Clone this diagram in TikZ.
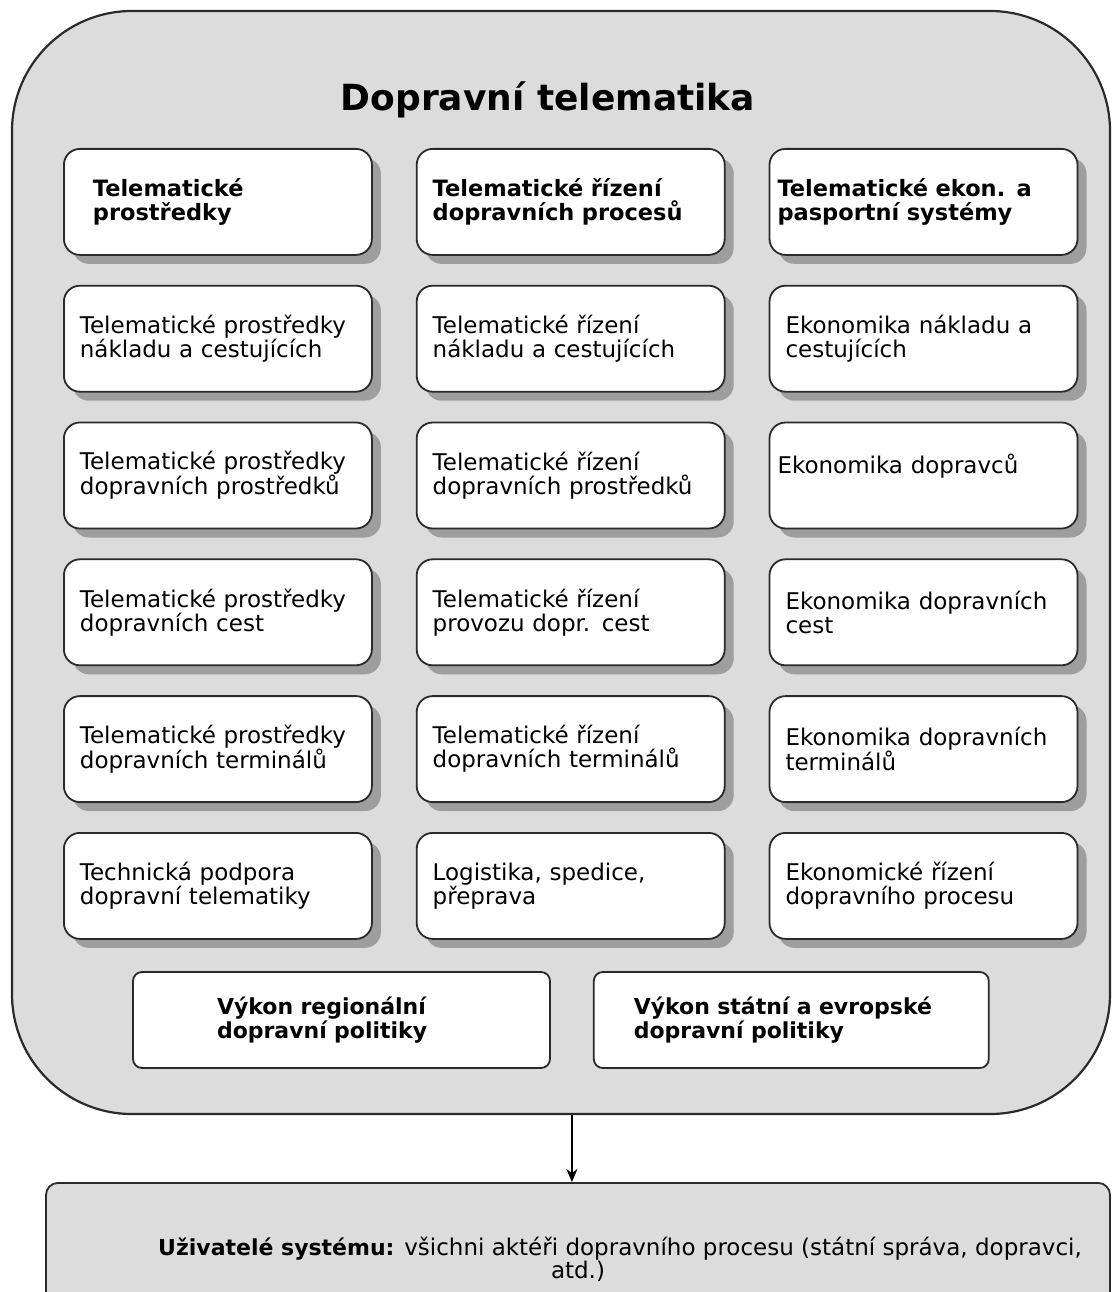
\documentclass[tikz,border=0pt]{standalone}
\usepackage{fontspec}
\setmainfont{DejaVu Sans}
\usepackage{tikz}
\usetikzlibrary{positioning}
\usetikzlibrary{shadows}
\usetikzlibrary{calc}
\usetikzlibrary{arrows.meta}
\definecolor{panelGray}{HTML}{DCDCDC}
\definecolor{lineGray}{HTML}{2A2A2A}

\begin{document}
\begin{tikzpicture}[x=1pt,y=1pt,
        node distance=29pt and 43pt,
        outerNode/.style = {draw=lineGray,line width=2.2pt,fill=panelGray,rounded corners=120pt,minimum width=1098pt,minimum height=1103pt,inner sep=0pt},
        boxNode/.style = {draw=lineGray,line width=1.8pt,fill=white,rounded corners=16pt,minimum width=308pt,minimum height=106pt,inner xsep=16pt,inner ysep=0pt,text width=276pt,align=left,font=\fontsize{23}{24}\selectfont,
            drop shadow={shadow xshift=9pt,shadow yshift=-9pt,fill=black!62}},
        headNode/.style = {boxNode,font=\fontsize{22.5}{24}\selectfont\bfseries}, % first row of the grid
        policyNode/.style = {draw=lineGray,line width=1.8pt,fill=white,rounded corners=9pt,minimum height=96pt,inner ysep=0pt,align=left,font=\fontsize{22}{22}\selectfont\bfseries},
        userNode/.style = {draw=lineGray,line width=1.8pt,fill=panelGray,rounded corners=12pt,minimum width=1064pt,minimum height=152pt,inner sep=0pt,align=center,font=\fontsize{23}{23}\selectfont},
        arrowLine/.style = {draw=black,line width=2.6pt,-{Stealth[length=13pt,width=11pt]}}
        ]
        \useasboundingbox (0,0) rectangle (1113,-1292);
        \node[outerNode] (telematika) at (561,-562.5) {};
        \node[font=\fontsize{36}{36}\selectfont\bfseries] (nadpis) at (548,-100) {Dopravní telematika};

        \node[headNode,anchor=north west,inner xsep=29pt,text width=250pt] (prostredky) at (63,-148) {Telematické\\prostředky};
        \node[headNode,right=of prostredky] (rizeni) {Telematické řízení\\dopravních procesů};
        \node[headNode,right=of rizeni,inner xsep=8pt,text width=292pt] (ekonomika) {Telematické ekon. a\\pasportní systémy};

        \node[boxNode,below=of prostredky] (prNaklad) {Telematické prostředky\\nákladu a cestujících};
        \node[boxNode,below=of prNaklad] (prVozidla) {Telematické prostředky\\dopravních prostředků};
        \node[boxNode,below=of prVozidla] (prCesty) {Telematické prostředky\\dopravních cest};
        \node[boxNode,below=of prCesty] (prTerminaly) {Telematické prostředky\\dopravních terminálů};
        \node[boxNode,below=of prTerminaly] (prPodpora) {Technická podpora\\dopravní telematiky};

        \node[boxNode,below=of rizeni] (riNaklad) {Telematické řízení\\nákladu a cestujících};
        \node[boxNode,below=of riNaklad] (riVozidla) {Telematické řízení\\dopravních prostředků};
        \node[boxNode,below=of riVozidla] (riCesty) {Telematické řízení\\provozu dopr. cest};
        \node[boxNode,below=of riCesty] (riTerminaly) {Telematické řízení\\dopravních terminálů};
        \node[boxNode,below=of riTerminaly] (riLogistika) {Logistika, spedice,\\přeprava};

        \node[boxNode,below=of ekonomika] (ekNaklad) {Ekonomika nákladu a\\cestujících};
        \node[boxNode,below=of ekNaklad,inner xsep=8pt,text width=292pt] (ekDopravci) {Ekonomika dopravců\\\mbox{}};
        \node[boxNode,below=of ekDopravci] (ekCesty) {Ekonomika dopravních\\cest};
        \node[boxNode,below=of ekCesty] (ekTerminaly) {Ekonomika dopravních\\terminálů};
        \node[boxNode,below=of ekTerminaly] (ekProces) {Ekonomické řízení\\dopravního procesu};

        \node[policyNode,minimum width=417pt,inner xsep=84pt,text width=249pt] (vykonA) at (341.5,-1020) {Výkon regionální\\dopravní politiky};
        \node[policyNode,minimum width=395pt,inner xsep=40pt,text width=315pt,right=42pt of vykonA] (vykonB) {Výkon státní a evropské\\dopravní politiky};

        \node[userNode,anchor=north] (uzivatele) at (578,-1182) {\hspace*{84pt}{\fontsize{22}{23}\selectfont\bfseries Uživatelé systému:} všichni aktéři dopravního procesu (státní správa, dopravci,\\atd.)};

        \coordinate (mezera) at ($(vykonA.east)!0.5!(vykonB.west)$);
        \draw[arrowLine] (telematika.south -| mezera) -- (uzivatele.north -| mezera);
    \end{tikzpicture}
\end{document}
